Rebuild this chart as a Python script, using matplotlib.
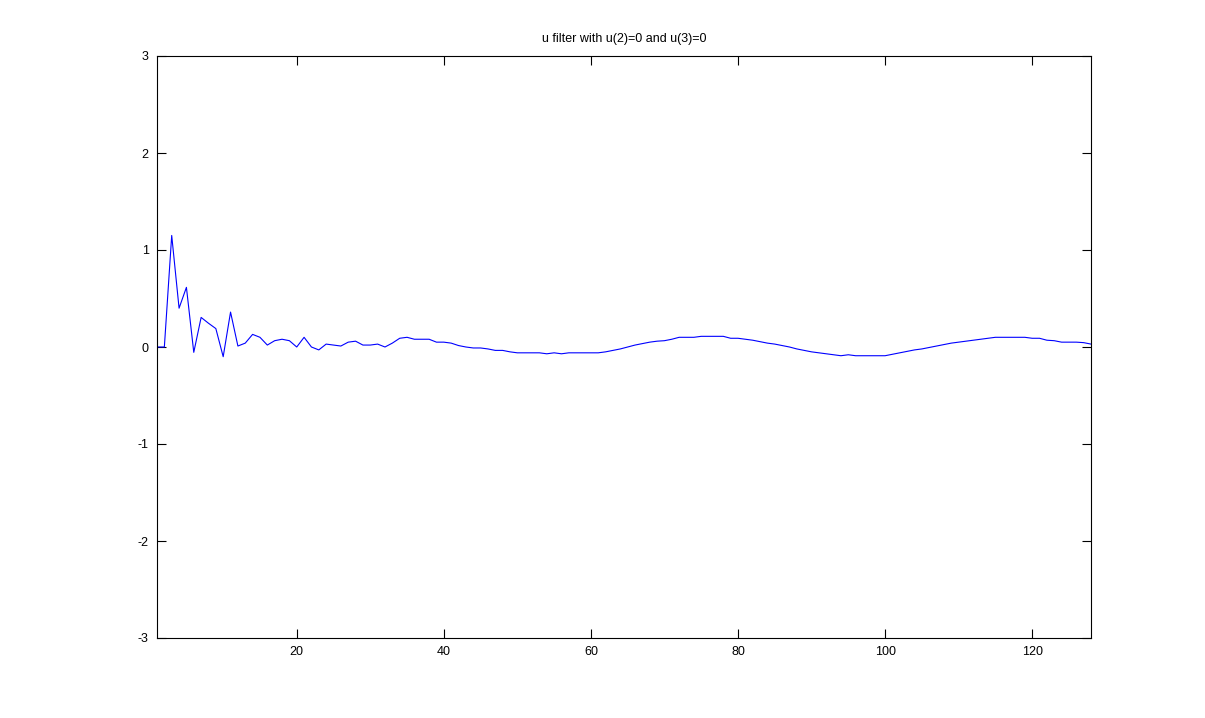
import matplotlib
matplotlib.use("Agg")
import matplotlib.pyplot as plt
import numpy as np

x = list(range(1, 129))
u = [0.0, 0.0, 1.15, 0.40, 0.615, -0.055, 0.305, 0.245, 0.19, -0.10,
     0.36, 0.01, 0.04, 0.13, 0.10, 0.02, 0.065, 0.08, 0.065, 0.0,
     0.10, 0.0, -0.03, 0.03, 0.02, 0.01, 0.05, 0.06, 0.02, 0.02,
     0.03, 0.0, 0.04, 0.09, 0.10, 0.08, 0.08, 0.08, 0.05, 0.05,
     0.04, 0.015, 0.0, -0.01, -0.01, -0.02, -0.035, -0.035, -0.05, -0.06,
     -0.06, -0.06, -0.06, -0.07, -0.06, -0.07, -0.06, -0.06, -0.06, -0.06,
     -0.06, -0.05, -0.035, -0.02, 0.0, 0.02, 0.035, 0.05, 0.06, 0.065,
     0.08, 0.10, 0.10, 0.10, 0.11, 0.11, 0.11, 0.11, 0.09, 0.09,
     0.08, 0.07, 0.055, 0.04, 0.03, 0.015, 0.0, -0.02, -0.035, -0.05,
     -0.06, -0.07, -0.08, -0.09, -0.08, -0.09, -0.09, -0.09, -0.09, -0.09,
     -0.075, -0.06, -0.045, -0.03, -0.02, -0.005, 0.01, 0.025, 0.04, 0.05,
     0.06, 0.07, 0.08, 0.09, 0.10, 0.10, 0.10, 0.10, 0.10, 0.09,
     0.09, 0.07, 0.065, 0.05, 0.05, 0.05, 0.045, 0.03]

xticks = [20, 40, 60, 80, 100, 120]
yticks = [-3, -2, -1, 0, 1, 2, 3]
title = "u filter with u(2)=0 and u(3)=0"

plt.rcParams['font.family'] = ['Liberation Sans', 'DejaVu Sans']
plt.rcParams['axes.unicode_minus'] = False

fig = plt.figure(figsize=(12.05, 7.18), dpi=100)
ax = fig.add_axes([157/1205, 1 - 638/718, (1091-157)/1205, (638-56)/718])
ax.plot(x, u, color='#0000ff', linewidth=0.8)
ax.set_xlim(1, 128)
ax.set_ylim(-3, 3)
ax.set_xticks(xticks)
ax.set_yticks(yticks)
ax.tick_params(direction='in', length=6.5, width=0.8, labelsize=9,
               top=True, right=True, pad=6)
for s in ax.spines.values():
    s.set_linewidth(0.8)
ax.set_title(title, fontsize=9, pad=10)
fig.savefig("out.png", dpi=100)
